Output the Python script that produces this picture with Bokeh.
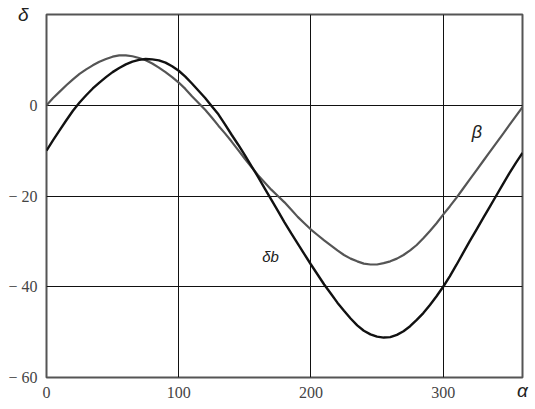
from bokeh.plotting import figure
from bokeh.models import Range1d, FixedTicker, Label
from bokeh.embed import file_html
from bokeh.resources import INLINE

# --- data ---
alpha = list(range(0, 361, 5))
beta = [0.0, 1.6, 3.0, 4.4, 5.7, 6.9, 7.9, 8.8, 9.6, 10.2, 10.7, 11.0, 11.0, 10.8, 10.4, 9.9,
        9.2, 8.3, 7.3, 6.2, 5.0, 3.6, 2.0, 0.5, -1.0, -2.7, -4.5, -6.2, -8.0, -9.9, -11.8,
        -13.6, -15.4, -17.0, -18.6, -20.0, -21.4, -23.0, -24.6, -26.0, -27.4, -28.6, -29.8,
        -30.9, -32.0, -33.0, -33.8, -34.4, -34.9, -35.1, -35.1, -34.8, -34.4, -33.8, -33.0,
        -32.0, -30.8, -29.3, -27.7, -26.0, -24.1, -22.3, -20.4, -18.4, -16.4, -14.4, -12.4,
        -10.4, -8.4, -6.4, -4.4, -2.4, -0.4]
delta_b = [-10.0, -7.7, -5.5, -3.3, -1.2, 0.6, 2.2, 3.7, 5.0, 6.2, 7.3, 8.2, 9.0, 9.6, 10.0,
           10.2, 10.1, 9.9, 9.4, 8.6, 7.6, 6.3, 4.8, 3.2, 1.6, -0.2, -2.0, -4.2, -6.5, -8.7,
           -11.0, -13.4, -15.8, -18.3, -20.8, -23.3, -25.8, -28.2, -30.5, -32.8, -35.1, -37.3,
           -39.5, -41.5, -43.5, -45.3, -47.0, -48.5, -49.7, -50.5, -51.0, -51.2, -51.1, -50.6,
           -49.8, -48.7, -47.3, -45.8, -44.0, -42.1, -40.0, -37.7, -35.2, -32.6, -30.0, -27.5,
           -25.0, -22.5, -20.0, -17.5, -15.0, -12.7, -10.5]
x_ticks = [0, 100, 200, 300]
y_ticks = [-60, -40, -20, 0]
y_tick_labels = {-60: "\u2212 60", -40: "\u2212 40", -20: "\u2212 20", 0: "0"}

p = figure(width=535, height=409, output_backend="svg", toolbar_location=None,
           x_range=Range1d(0, 360), y_range=Range1d(-60, 20),
           min_border_left=46, min_border_right=13, min_border_top=14, min_border_bottom=32)

p.background_fill_color = "white"
p.border_fill_color = "white"
p.outline_line_color = "#555555"
p.outline_line_width = 2

serif = "Liberation Serif"
for ax in (p.xaxis, p.yaxis):
    ax.axis_line_color = None
    ax.major_tick_line_color = None
    ax.minor_tick_line_color = None
    ax.major_label_text_font = serif
    ax.major_label_text_font_size = "16px"
    ax.major_label_text_color = "#444444"
    ax.axis_label_text_font = "Liberation Sans"
    ax.axis_label_text_font_style = "italic"
    ax.axis_label_text_font_size = "19px"
    ax.axis_label_text_color = "#222222"
    ax.axis_label_orientation = "horizontal"

p.xaxis.ticker = FixedTicker(ticks=x_ticks)
p.yaxis.ticker = FixedTicker(ticks=y_ticks)
p.yaxis.major_label_overrides = y_tick_labels
p.xaxis.major_label_standoff = 3
p.yaxis.major_label_standoff = 3

p.yaxis.axis_label = "\u03b4"
p.xaxis.axis_label = "\u03b1"
p.yaxis.axis_label_standoff = -23
p.xaxis.axis_label_standoff = -21
try:
    p.yaxis.axis_label_align = "end"
    p.xaxis.axis_label_align = "end"
except Exception:
    pass

p.xgrid.ticker = FixedTicker(ticks=x_ticks)
p.ygrid.ticker = FixedTicker(ticks=y_ticks)
for g in (p.xgrid, p.ygrid):
    g.grid_line_color = "#111111"
    g.grid_line_width = 1

p.line(alpha, beta, line_color="#555555", line_width=2.2)
p.line(alpha, delta_b, line_color="#111111", line_width=2.4)

greek = dict(text_font="Liberation Sans", text_font_style="italic", text_color="#222222")
p.add_layout(Label(x=325.5, y=-6.0, text="\u03b2", text_align="center", text_baseline="middle",
                   text_font_size="18px", **greek))
p.add_layout(Label(x=169.5, y=-33.3, text="\u03b4b", text_align="center", text_baseline="middle",
                   text_font_size="15px", **greek))

open("out.html", "w").write(file_html(p, INLINE))
